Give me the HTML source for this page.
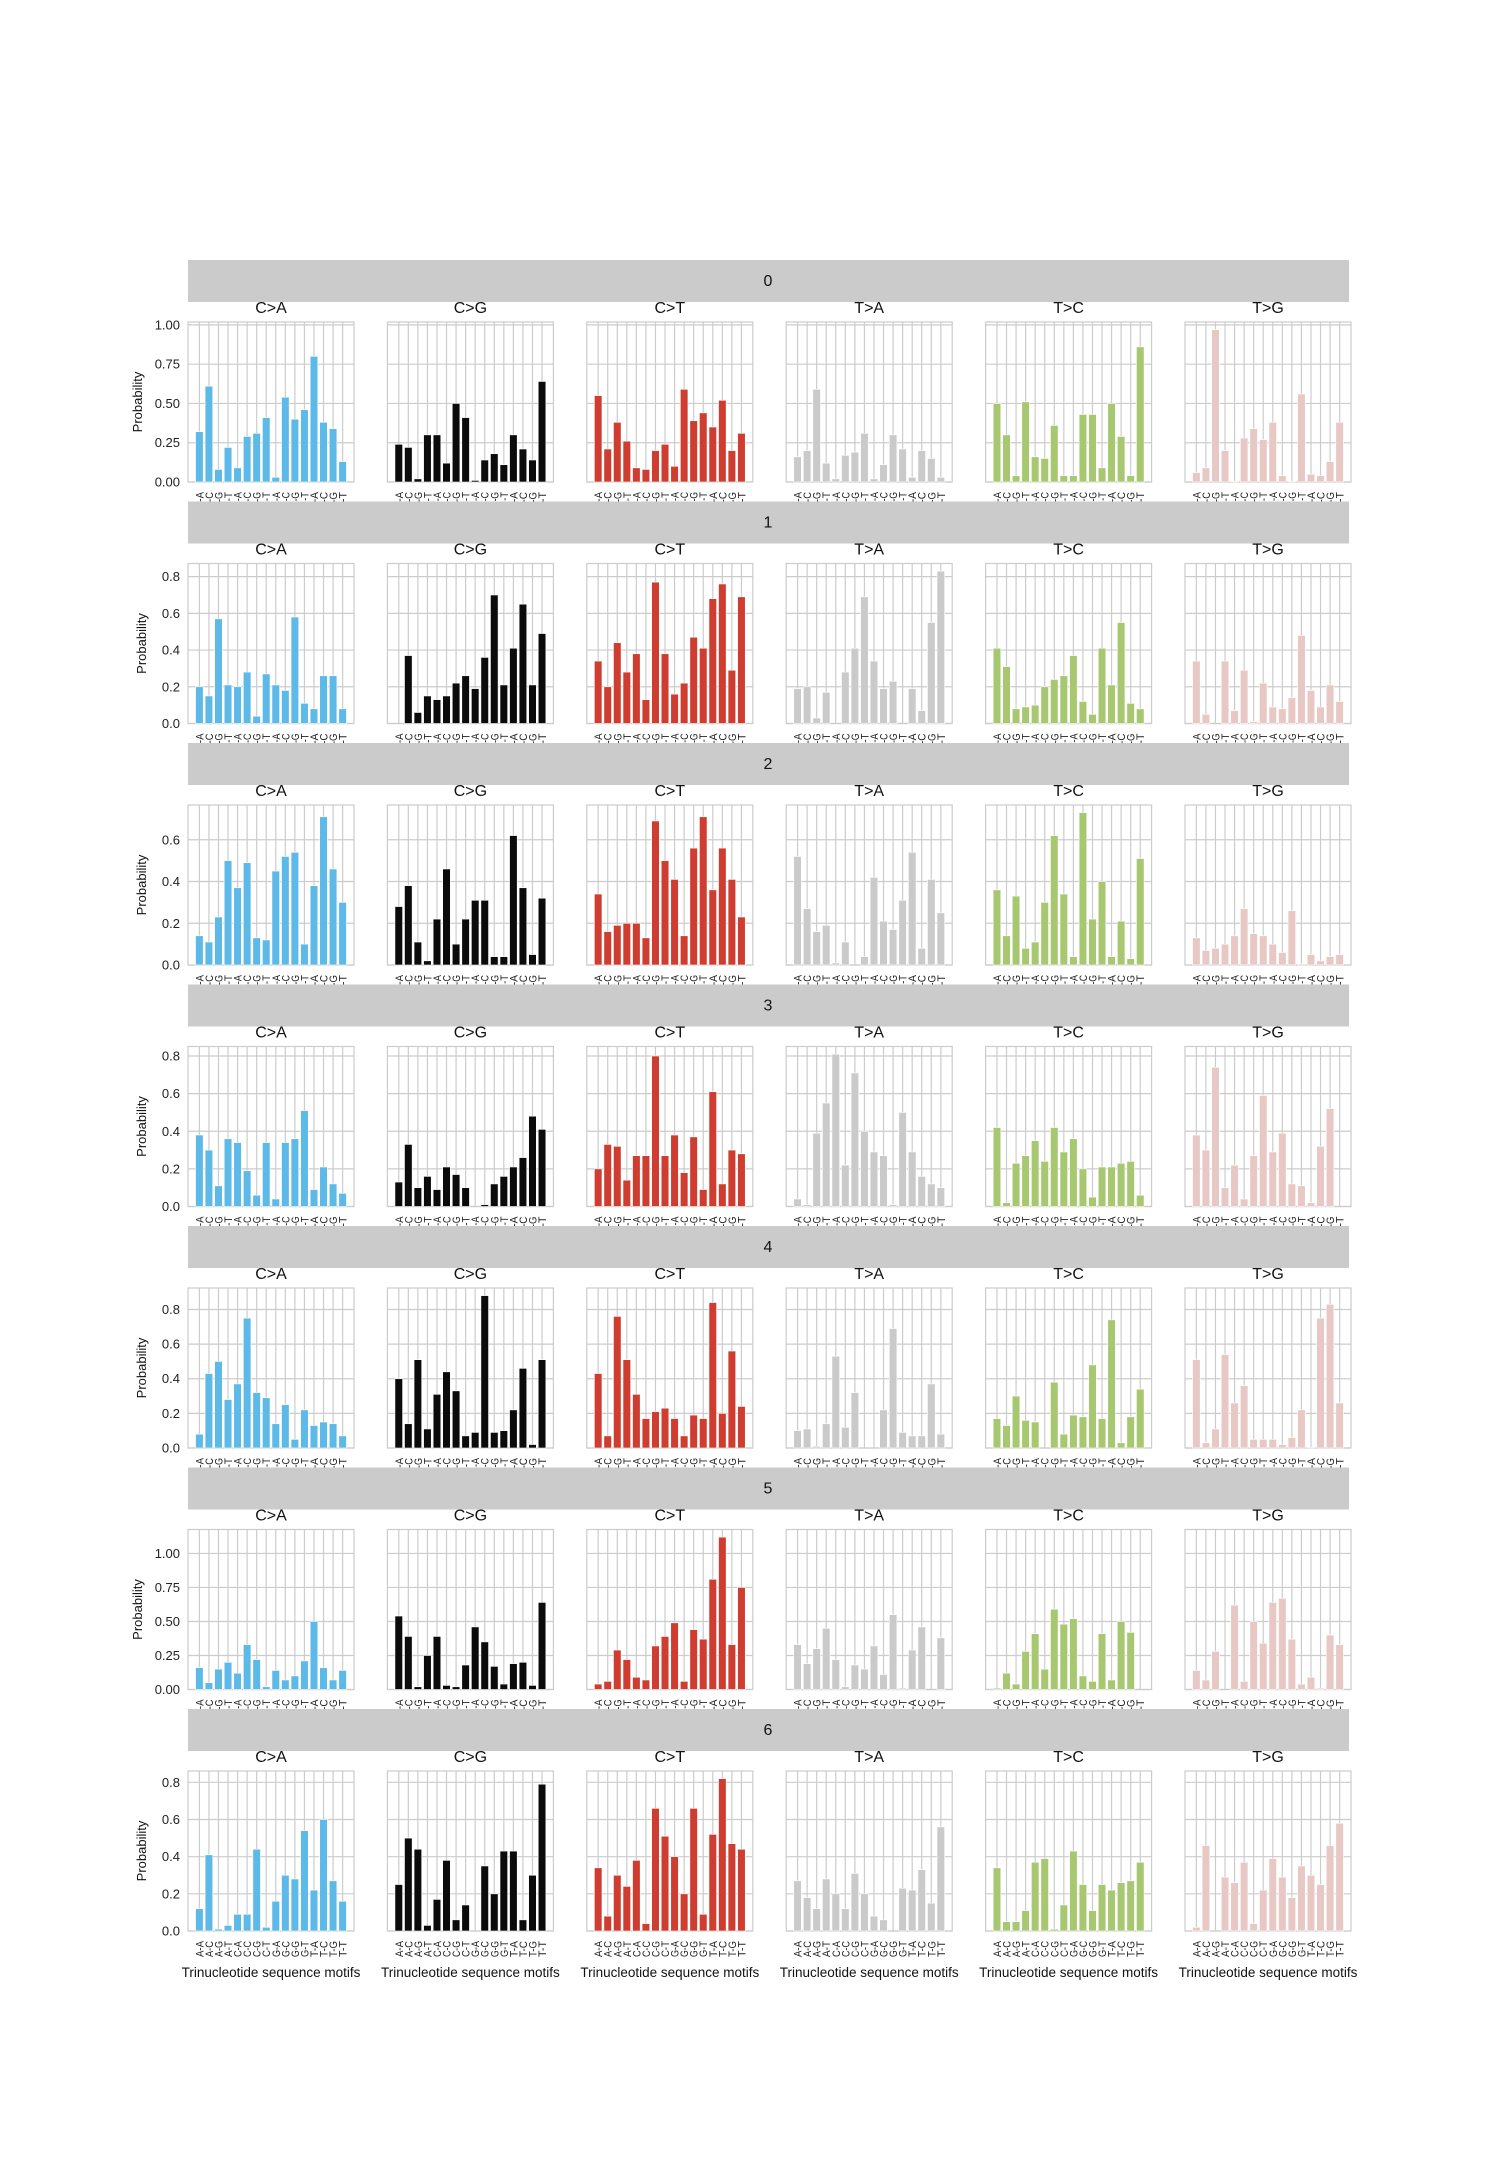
<!DOCTYPE html>
<html><head><meta charset="utf-8"><style>
html,body{margin:0;padding:0;background:#fff;}
svg{display:block;font-family:"Liberation Sans",Arial,sans-serif;}
</style></head><body>
<svg id="fig" width="1500" height="2170" viewBox="0 0 1500 2170" xmlns="http://www.w3.org/2000/svg"></svg>
<script>
const categories=["A-A","A-C","A-G","A-T","C-A","C-C","C-G","C-T","G-A","G-C","G-G","G-T","T-A","T-C","T-G","T-T"];
const mutationTypes=["C>A","C>G","C>T","T>A","T>C","T>G"];
const rowLabels=["0","1","2","3","4","5","6"];
const row0=[[0.32,0.61,0.08,0.22,0.09,0.29,0.31,0.41,0.03,0.54,0.40,0.46,0.80,0.38,0.34,0.13],
[0.24,0.22,0.02,0.30,0.30,0.12,0.50,0.41,0.01,0.14,0.18,0.11,0.30,0.21,0.14,0.64],
[0.55,0.21,0.38,0.26,0.09,0.08,0.20,0.24,0.10,0.59,0.39,0.44,0.35,0.52,0.20,0.31],
[0.16,0.20,0.59,0.12,0.02,0.17,0.19,0.31,0.02,0.11,0.30,0.21,0.03,0.20,0.15,0.03],
[0.50,0.30,0.04,0.51,0.16,0.15,0.36,0.04,0.04,0.43,0.43,0.09,0.50,0.29,0.04,0.86],
[0.06,0.09,0.97,0.20,0.005,0.28,0.34,0.27,0.38,0.04,0.005,0.56,0.05,0.04,0.13,0.38]];
const row1=[[0.20,0.15,0.57,0.21,0.20,0.28,0.04,0.27,0.21,0.18,0.58,0.11,0.08,0.26,0.26,0.08],
[0,0.37,0.06,0.15,0.13,0.15,0.22,0.26,0.19,0.36,0.70,0.21,0.41,0.65,0.21,0.49],
[0.34,0.20,0.44,0.28,0.38,0.13,0.77,0.38,0.16,0.22,0.47,0.41,0.68,0.76,0.29,0.69],
[0.19,0.20,0.03,0.17,0,0.28,0.41,0.69,0.34,0.19,0.23,0,0.19,0.07,0.55,0.83],
[0.41,0.31,0.08,0.09,0.10,0.20,0.24,0.26,0.37,0.12,0.05,0.41,0.21,0.55,0.11,0.08],
[0.34,0.05,0,0.34,0.07,0.29,0.01,0.22,0.09,0.08,0.14,0.48,0.18,0.09,0.21,0.12]];
const row2=[[0.14,0.11,0.23,0.50,0.37,0.49,0.13,0.12,0.45,0.52,0.54,0.10,0.38,0.71,0.46,0.30],
[0.28,0.38,0.11,0.02,0.22,0.46,0.10,0.22,0.31,0.31,0.04,0.04,0.62,0.37,0.05,0.32],
[0.34,0.16,0.19,0.20,0.20,0.13,0.69,0.50,0.41,0.14,0.56,0.71,0.36,0.56,0.41,0.23],
[0.52,0.27,0.16,0.19,0.01,0.11,0,0.04,0.42,0.21,0.17,0.31,0.54,0.08,0.41,0.25],
[0.36,0.14,0.33,0.08,0.11,0.30,0.62,0.34,0.04,0.73,0.22,0.40,0.04,0.21,0.03,0.51],
[0.13,0.07,0.08,0.10,0.14,0.27,0.15,0.14,0.10,0.06,0.26,0.005,0.05,0.02,0.04,0.05]];
const row3=[[0.38,0.30,0.11,0.36,0.34,0.19,0.06,0.34,0.04,0.34,0.36,0.51,0.09,0.21,0.12,0.07],
[0.13,0.33,0.10,0.16,0.09,0.21,0.17,0.10,0,0.01,0.12,0.16,0.21,0.26,0.48,0.41],
[0.20,0.33,0.32,0.14,0.27,0.27,0.80,0.27,0.38,0.18,0.37,0.09,0.61,0.12,0.30,0.28],
[0.04,0.01,0.39,0.55,0.81,0.22,0.71,0.40,0.29,0.27,0.01,0.50,0.29,0.16,0.12,0.10],
[0.42,0.02,0.23,0.27,0.35,0.24,0.42,0.29,0.36,0.20,0.05,0.21,0.21,0.23,0.24,0.06],
[0.38,0.30,0.74,0.10,0.22,0.04,0.27,0.59,0.29,0.39,0.12,0.11,0.02,0.32,0.52,0]];
const row4=[[0.08,0.43,0.50,0.28,0.37,0.75,0.32,0.29,0.14,0.25,0.05,0.22,0.13,0.15,0.14,0.07],
[0.40,0.14,0.51,0.11,0.31,0.44,0.33,0.07,0.09,0.88,0.09,0.10,0.22,0.46,0.02,0.51],
[0.43,0.07,0.76,0.51,0.31,0.17,0.21,0.23,0.17,0.07,0.19,0.17,0.84,0.20,0.56,0.24],
[0.10,0.11,0.01,0.14,0.53,0.12,0.32,0,0,0.22,0.69,0.09,0.07,0.07,0.37,0.08],
[0.17,0.13,0.30,0.16,0.15,0,0.38,0.08,0.19,0.18,0.48,0.17,0.74,0.03,0.18,0.34],
[0.51,0.03,0.11,0.54,0.26,0.36,0.05,0.05,0.05,0.02,0.06,0.22,0.005,0.75,0.83,0.26]];
const row5=[[0.16,0.05,0.15,0.20,0.12,0.33,0.22,0.02,0.14,0.07,0.10,0.21,0.50,0.16,0.07,0.14],
[0.54,0.39,0.02,0.25,0.39,0.03,0.02,0.18,0.46,0.35,0.17,0.04,0.19,0.20,0.03,0.64],
[0.04,0.06,0.29,0.22,0.09,0.07,0.32,0.39,0.49,0.06,0.44,0.37,0.81,1.12,0.33,0.75],
[0.33,0.19,0.30,0.45,0.22,0.02,0.18,0.15,0.32,0.11,0.55,0.01,0.29,0.46,0,0.38],
[0.01,0.12,0.04,0.28,0.41,0.15,0.59,0.48,0.52,0.10,0.06,0.41,0.07,0.50,0.42,0],
[0.14,0.07,0.28,0,0.62,0.06,0.50,0.34,0.64,0.67,0.37,0.04,0.09,0.01,0.40,0.33]];
const row6=[[0.12,0.41,0.01,0.03,0.09,0.09,0.44,0.02,0.16,0.30,0.28,0.54,0.22,0.60,0.27,0.16],
[0.25,0.50,0.44,0.03,0.17,0.38,0.06,0.14,0,0.35,0.20,0.43,0.43,0.06,0.30,0.79],
[0.34,0.08,0.30,0.24,0.38,0.04,0.66,0.51,0.40,0.20,0.66,0.09,0.52,0.82,0.47,0.44],
[0.27,0.18,0.12,0.28,0.20,0.12,0.31,0.20,0.08,0.06,0,0.23,0.22,0.33,0.15,0.56],
[0.34,0.05,0.05,0.11,0.37,0.39,0.01,0.14,0.43,0.25,0.11,0.25,0.22,0.26,0.27,0.37],
[0.02,0.46,0,0.29,0.26,0.37,0.04,0.22,0.39,0.29,0.18,0.35,0.30,0.25,0.46,0.58]];
const rows=[row0,row1,row2,row3,row4,row5,row6];
const colors=["#5DB9E7","#0b0b0b","#CE3D30","#CACACA","#A7C771","#E8C8C5"];

const NS="http://www.w3.org/2000/svg";
const svg=document.getElementById('fig');
function mk(tag,attrs,parent){const e=document.createElementNS(NS,tag);for(const k in attrs)e.setAttribute(k,attrs[k]);(parent||svg).appendChild(e);return e;}
const ROW_H=241.5, AX_TOP0=322, AX_H=160, LEFT0=188, COL_W=199.4, AX_W=166;
const XMIN=-1.19, XMAX=16.19;
const stripLayer=document.createElementNS(NS,'g');

rows.forEach((row,r)=>{
  let maxv=0;row.forEach(s=>s.forEach(v=>{if(v>maxv)maxv=v;}));
  const ymax=maxv*1.05;
  const step=ymax>1?0.25:0.2, dec=ymax>1?2:1;
  const top=AX_TOP0+r*ROW_H, bot=top+AX_H;
  const ys=v=>bot-v/ymax*AX_H;
  const rowG=mk('g',{});
  
  
  row.forEach((series,c)=>{
    const left=LEFT0+c*COL_W;
    const xs=i=>left+(i-XMIN)/(XMAX-XMIN)*AX_W;
    const bw=0.8/(XMAX-XMIN)*AX_W;
    const g=mk('g',{},rowG);
    
    
    mk('rect',{x:left,y:top,width:AX_W,height:AX_H,fill:'#fff',stroke:'#cccccc','stroke-width':1.2},g);
    for(let t=0;t<=ymax+1e-9;t+=step){
      const y=ys(t);
      const gl=mk('line',{x1:left,x2:left+AX_W,y1:y,y2:y,stroke:'#cccccc','stroke-width':1.2},g);
      
      
      if(c===0){
        const tl=mk('text',{x:left-8,y:y+4.5,'text-anchor':'end','font-size':13,fill:'#222'},g);
        tl.textContent=t.toFixed(dec);
        
        
      }
    }
    categories.forEach((cat,i)=>{
      const x=xs(i);
      mk('line',{x1:x,x2:x,y1:top,y2:bot,stroke:'#cccccc','stroke-width':1.2},g);
    });
    series.forEach((v,i)=>{
      const b=mk('rect',{x:xs(i)-bw/2,y:ys(v),width:bw,height:bot-ys(v),fill:colors[c],stroke:'#fff','stroke-width':0.6},g);
      
      
    });
    categories.forEach((cat,i)=>{
      const x=xs(i)+4;
      const ty=bot+10;
      const tl=mk('text',{x:x,y:ty,'text-anchor':'end','font-size':11,fill:'#222',textLength:16,lengthAdjust:'spacingAndGlyphs',transform:'rotate(-90 '+x+' '+ty+')'},g);
      tl.textContent=cat;
      
      
    });
    const tt=mk('text',{x:left+AX_W/2,y:top-9,'text-anchor':'middle','font-size':16,fill:'#111'},g);
    tt.textContent=mutationTypes[c];
    
    
    if(r===rows.length-1){
      const xl=mk('text',{x:left+AX_W/2,y:bot+46,'text-anchor':'middle','font-size':13.5,fill:'#111'},g);
      xl.textContent='Trinucleotide sequence motifs';
      
      
    }
  });
  const yl=mk('text',{'text-anchor':'middle','font-size':13,fill:'#111',transform:'translate('+(ymax>1?142:146)+','+(top+AX_H/2)+') rotate(-90)'},rowG);
  yl.textContent='Probability';
  
  
  const sy=260+r*ROW_H;
  const sg=document.createElementNS(NS,'g');stripLayer.appendChild(sg);
  
  
  mk('rect',{x:188,y:sy,width:1161,height:42,fill:'#cbcbcb'},sg);
  const st=mk('text',{x:768,y:sy+26,'text-anchor':'middle','font-size':16,fill:'#111'},sg);
  st.textContent=rowLabels[r];
  
  
});
svg.appendChild(stripLayer);
</script>
</body></html>
